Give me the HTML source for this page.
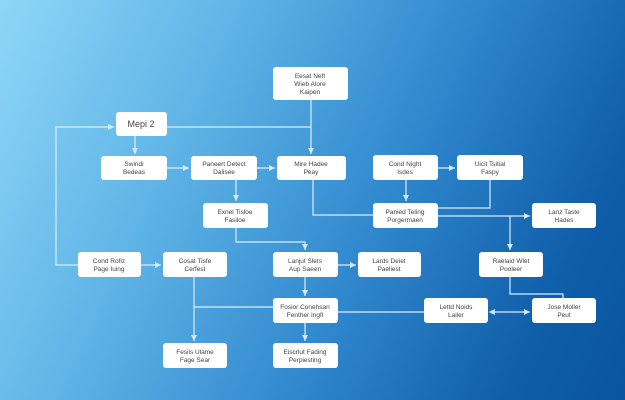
<!DOCTYPE html>
<html><head><meta charset="utf-8"><style>
html,body{margin:0;padding:0}
body{width:625px;height:400px;overflow:hidden;background:linear-gradient(115deg,#8fd6f8 0%,#5fb4e6 30%,#2f86cc 60%,#0f5ea9 85%,#0a54a0 100%);font-family:"Liberation Sans",sans-serif}
svg{position:absolute;left:0;top:0}
</style></head><body>
<svg width="625" height="400" viewBox="0 0 625 400">
<defs><marker id="a" markerWidth="6" markerHeight="6" refX="5" refY="3" orient="auto"><path d="M0,0.5 L5,3 L0,5.5z" fill="#cfeaff"/></marker>
<marker id="b" markerWidth="6" markerHeight="6" refX="1" refY="3" orient="auto"><path d="M5,0.5 L0,3 L5,5.5z" fill="#cfeaff"/></marker></defs>
<g stroke="#d8efff" stroke-width="1.2" fill="none">
<path d="M78,265 H56 V127 H114" marker-end="url(#a)"/>
<path d="M167,127 H311"/>
<path d="M311,100 V154" marker-end="url(#a)"/>
<path d="M135,136 V154" marker-end="url(#a)"/>
<path d="M167,168 H189" marker-end="url(#a)"/>
<path d="M257,168 H275" marker-end="url(#a)"/>
<path d="M236,180 V201" marker-end="url(#a)"/>
<path d="M313,180 V215 H373"/>
<path d="M236,228 V242 H305 V250" marker-end="url(#a)"/>
<path d="M438,168 H455" marker-end="url(#a)"/>
<path d="M406,180 V201" marker-end="url(#a)"/>
<path d="M490,180 V208 H438"/>
<path d="M438,216 H530" marker-end="url(#a)"/>
<path d="M510,216 V250" marker-end="url(#a)"/>
<path d="M510,277 V294 H563 V298"/>
<path d="M490,312 H530" marker-start="url(#b)" marker-end="url(#a)"/>
<path d="M338,312 H424"/>
<path d="M338,265 H356" marker-end="url(#a)"/>
<path d="M141,265 H161" marker-end="url(#a)"/>
<path d="M194,277 V341" marker-end="url(#a)"/>
<path d="M194,307 H273"/>
<path d="M305,277 V296" marker-end="url(#a)"/>
<path d="M305,323 V341" marker-end="url(#a)"/>
</g>
<g fill="#fff">
<rect x="273" y="67" width="75" height="33" rx="3"/>
<rect x="116" y="112" width="51" height="24" rx="3"/>
<rect x="101" y="156" width="66" height="24" rx="3"/>
<rect x="191" y="156" width="66" height="24" rx="3"/>
<rect x="277" y="156" width="69" height="24" rx="3"/>
<rect x="203" y="203" width="65" height="25" rx="3"/>
<rect x="373" y="155" width="65" height="25" rx="3"/>
<rect x="457" y="155" width="66" height="25" rx="3"/>
<rect x="373" y="203" width="65" height="25" rx="3"/>
<rect x="532" y="203" width="64" height="25" rx="3"/>
<rect x="78" y="252" width="63" height="25" rx="3"/>
<rect x="163" y="252" width="64" height="25" rx="3"/>
<rect x="273" y="252" width="65" height="25" rx="3"/>
<rect x="358" y="252" width="63" height="25" rx="3"/>
<rect x="479" y="252" width="64" height="25" rx="3"/>
<rect x="273" y="298" width="65" height="25" rx="3"/>
<rect x="424" y="298" width="64" height="25" rx="3"/>
<rect x="532" y="298" width="64" height="25" rx="3"/>
<rect x="163" y="343" width="64" height="25" rx="3"/>
<rect x="273" y="343" width="65" height="25" rx="3"/>
</g>
<g fill="#444" font-size="6.5" text-anchor="middle">
<text x="310" y="78">Eesat Neft</text><text x="310" y="86">Wieb Alore</text><text x="310" y="94">Kaipen</text>
<text x="141" y="127" font-size="9">Mepi 2</text>
<text x="134" y="166">Swindi</text><text x="134" y="174">Bedeas</text>
<text x="224" y="166">Paneert Detect</text><text x="224" y="174">Dalisee</text>
<text x="311" y="166">Mire Hadee</text><text x="311" y="174">Peay</text>
<text x="235" y="214">Exnel Tisloe</text><text x="235" y="222">Fasiloe</text>
<text x="405" y="166">Cond Night</text><text x="405" y="174">Isdes</text>
<text x="490" y="166">Uicit Tsitial</text><text x="490" y="174">Faspy</text>
<text x="405" y="214">Panied Teling</text><text x="405" y="222">Porgermaen</text>
<text x="564" y="214">Lanz Taste</text><text x="564" y="222">Hades</text>
<text x="109" y="263">Cond Rofiz</text><text x="109" y="271">Page Iuing</text>
<text x="195" y="263">Cosat Tisfe</text><text x="195" y="271">Cerfest</text>
<text x="305" y="263">Lanjut Slets</text><text x="305" y="271">Aup Saeen</text>
<text x="389" y="263">Lards Deiet</text><text x="389" y="271">Paeliest</text>
<text x="511" y="263">Raelaid Wlet</text><text x="511" y="271">Pooleer</text>
<text x="305" y="309">Fosior Conehsan</text><text x="305" y="317">Fenther Ingfi</text>
<text x="456" y="309">Lettd Noids</text><text x="456" y="317">Lailer</text>
<text x="564" y="309">Jose Moller</text><text x="564" y="317">Peut</text>
<text x="195" y="354">Fesils Ulame</text><text x="195" y="362">Fage Sear</text>
<text x="305" y="354">Eiscrlut Fading</text><text x="305" y="362">Perpiesting</text>
</g>
</svg>
</body></html>
